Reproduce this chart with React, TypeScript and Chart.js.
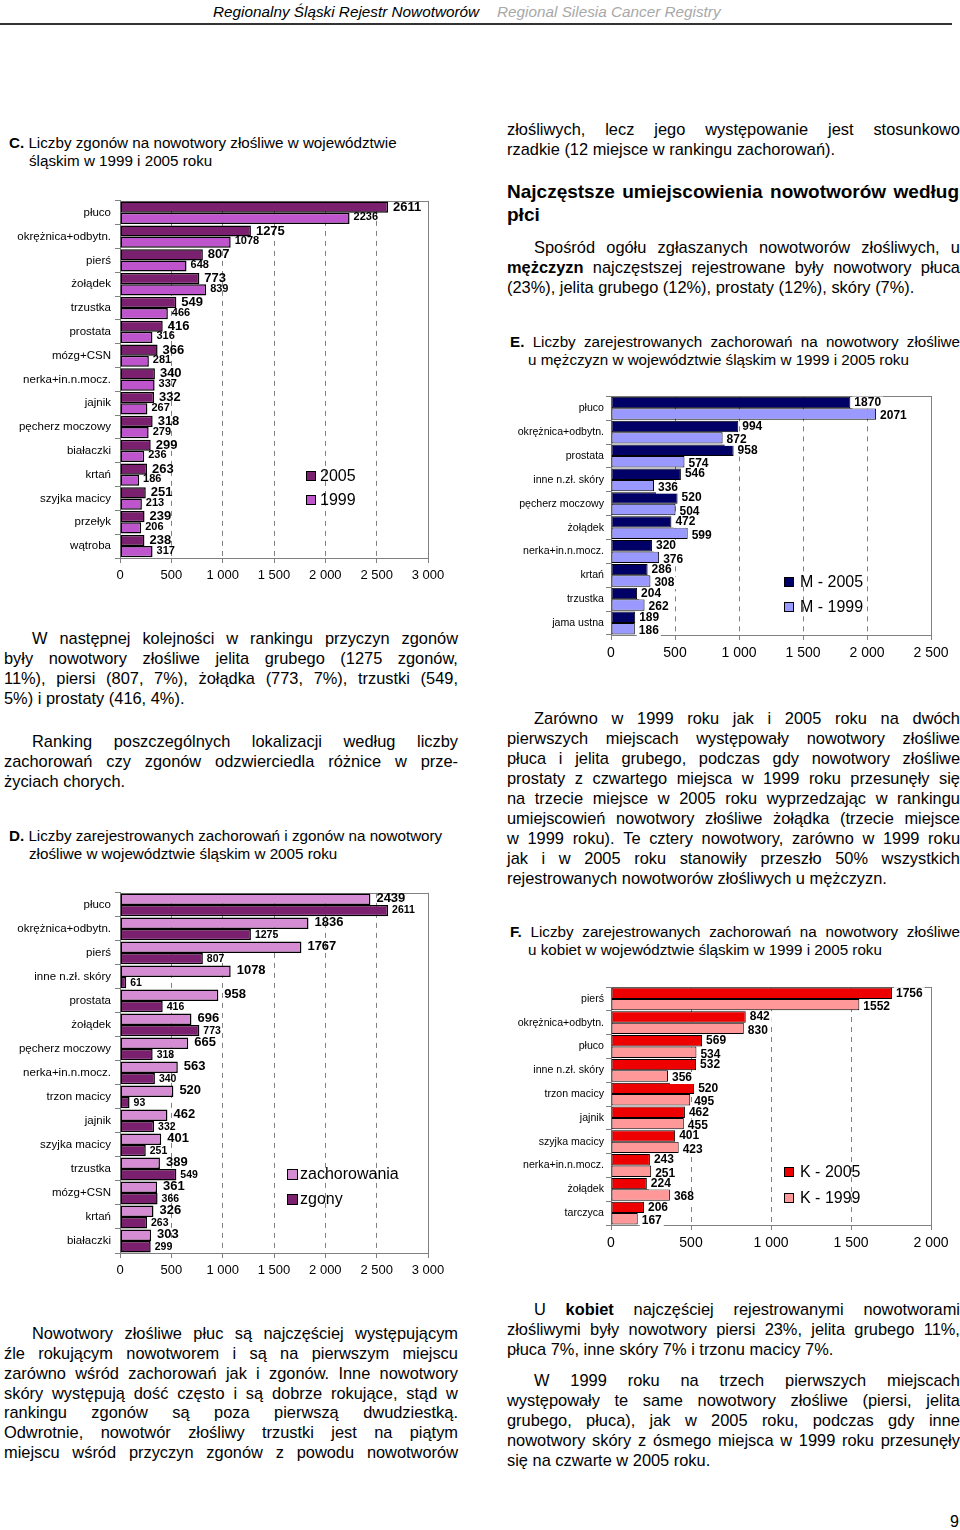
import React, { useEffect, useRef } from 'react';
import { Chart, registerables } from 'chart.js';

Chart.register(...registerables);

const FONT = "'Liberation Sans', Arial, Helvetica, sans-serif";
const BODY = 16.4;

// ---------- Chart C: deaths 2005 vs 1999 ----------
const C_CATEGORIES = ['płuco', 'okrężnica+odbytn.', 'pierś', 'żołądek', 'trzustka', 'prostata', 'mózg+CSN', 'nerka+in.n.mocz.', 'jajnik', 'pęcherz moczowy', 'białaczki', 'krtań', 'szyjka macicy', 'przełyk', 'wątroba'];
const C_2005 = [2611, 1275, 807, 773, 549, 416, 366, 340, 332, 318, 299, 263, 251, 239, 238];
const C_1999 = [2236, 1078, 648, 839, 466, 316, 281, 337, 267, 279, 236, 186, 213, 206, 317];
const C_SERIES = ['2005', '1999'];
const C_TICKS = ['0', '500', '1 000', '1 500', '2 000', '2 500', '3 000'];

// ---------- Chart D: incidence vs deaths 2005 ----------
const D_CATEGORIES = ['płuco', 'okrężnica+odbytn.', 'pierś', 'inne n.zł. skóry', 'prostata', 'żołądek', 'pęcherz moczowy', 'nerka+in.n.mocz.', 'trzon macicy', 'jajnik', 'szyjka macicy', 'trzustka', 'mózg+CSN', 'krtań', 'białaczki'];
const D_INCIDENCE = [2439, 1836, 1767, 1078, 958, 696, 665, 563, 520, 462, 401, 389, 361, 326, 303];
const D_DEATHS = [2611, 1275, 807, 61, 416, 773, 318, 340, 93, 332, 251, 549, 366, 263, 299];
const D_SERIES = ['zachorowania', 'zgony'];
const D_TICKS = ['0', '500', '1 000', '1 500', '2 000', '2 500', '3 000'];

// ---------- Chart E: men ----------
const E_CATEGORIES = ['płuco', 'okrężnica+odbytn.', 'prostata', 'inne n.zł. skóry', 'pęcherz moczowy', 'żołądek', 'nerka+in.n.mocz.', 'krtań', 'trzustka', 'jama ustna'];
const E_2005 = [1870, 994, 958, 546, 520, 472, 320, 286, 204, 189];
const E_1999 = [2071, 872, 574, 336, 504, 599, 376, 308, 262, 186];
const E_SERIES = ['M - 2005', 'M - 1999'];
const E_TICKS = ['0', '500', '1 000', '1 500', '2 000', '2 500'];

// ---------- Chart F: women ----------
const F_CATEGORIES = ['pierś', 'okrężnica+odbytn.', 'płuco', 'inne n.zł. skóry', 'trzon macicy', 'jajnik', 'szyjka macicy', 'nerka+in.n.mocz.', 'żołądek', 'tarczyca'];
const F_2005 = [1756, 842, 569, 532, 520, 462, 401, 243, 224, 206];
const F_1999 = [1552, 830, 534, 356, 495, 455, 423, 251, 368, 167];
const F_SERIES = ['K - 2005', 'K - 1999'];
const F_TICKS = ['0', '500', '1 000', '1 500', '2 000'];

type Box = { left: number; top: number; width: number; height: number };
type Plot = { left: number; right: number; top: number; bottom: number };
type Series = {
  label: string;
  data: number[];
  color: string;
  labelSize: number;
  dx: number;
  dy: number;
  labelBg?: boolean;
};
type BarProps = {
  box: Box;
  plot: Plot;
  categories: string[];
  series: Series[];
  max: number;
  step: number;
  ticks: string[];
  catSize: number;
  catPad: number;
  tickSize: number;
  catPct: number;
  borderWidth: number;
};

function BarChart(p: BarProps) {
  const ref = useRef<HTMLCanvasElement>(null);
  useEffect(() => {
    const { box, plot, series } = p;
    const frame = {
      id: 'frame',
      beforeDatasetsDraw(chart: any) {
        const { left, right, top, bottom } = chart.chartArea;
        const ctx = chart.ctx;
        ctx.save();
        ctx.strokeStyle = '#808080';
        ctx.lineWidth = 1;
        ctx.strokeRect(Math.round(left) + 0.5, Math.round(top) + 0.5, Math.round(right - left), Math.round(bottom - top));
        ctx.restore();
      },
    };
    const valueLabels = {
      id: 'valueLabels',
      afterDatasetsDraw(chart: any) {
        const ctx = chart.ctx;
        const n = chart.data.labels.length;
        for (let i = 0; i < n; i++) {
          chart.data.datasets.forEach((ds: any, di: number) => {
            const s = series[di];
            const bar: any = chart.getDatasetMeta(di).data[i];
            const text = String(ds.data[i]);
            ctx.save();
            ctx.font = `bold ${s.labelSize}px ${FONT}`;
            ctx.textBaseline = 'middle';
            ctx.textAlign = 'left';
            const x = bar.x + s.dx;
            const y = bar.y + s.dy;
            if (s.labelBg) {
              const w = ctx.measureText(text).width;
              ctx.fillStyle = '#fff';
              ctx.fillRect(x - 2, y - s.labelSize / 2, w + 4, s.labelSize);
            }
            ctx.fillStyle = '#000';
            ctx.fillText(text, x, y);
            ctx.restore();
          });
        }
      },
    };
    const chart = new Chart(ref.current as HTMLCanvasElement, {
      type: 'bar',
      data: {
        labels: p.categories,
        datasets: series.map((s) => ({
          label: s.label,
          data: s.data,
          backgroundColor: s.color,
          borderColor: '#000',
          borderWidth: p.borderWidth,
          borderSkipped: false,
          categoryPercentage: p.catPct,
          barPercentage: 1,
        })),
      },
      options: {
        indexAxis: 'y',
        animation: false,
        responsive: false,
        maintainAspectRatio: false,
        devicePixelRatio: 1,
        layout: {
          padding: {
            top: plot.top - box.top,
            right: box.left + box.width - plot.right,
            left: 0,
            bottom: 0,
          },
        },
        plugins: {
          legend: { display: false },
          tooltip: { enabled: false },
        },
        scales: {
          x: {
            type: 'linear',
            position: 'bottom',
            min: 0,
            max: p.max,
            ticks: {
              stepSize: p.step,
              autoSkip: false,
              maxRotation: 0,
              padding: 5,
              color: '#000',
              font: { family: FONT, size: p.tickSize },
              callback: (_v: any, i: number) => p.ticks[i],
            },
            grid: {
              color: '#808080',
              lineWidth: 1,
              drawTicks: true,
              tickLength: 5,
              tickColor: '#808080',
              tickBorderDash: [],
            },
            border: { display: true, color: '#808080', dash: [5, 5] },
            afterFit: (s: any) => {
              s.height = box.top + box.height - plot.bottom;
            },
          },
          y: {
            type: 'category',
            position: 'left',
            ticks: {
              autoSkip: false,
              padding: p.catPad,
              color: '#000',
              font: { family: FONT, size: p.catSize },
            },
            grid: {
              display: true,
              drawOnChartArea: false,
              drawTicks: true,
              tickLength: 5,
              color: '#808080',
              offset: true,
            },
            border: { display: true, color: '#808080' },
            afterFit: (s: any) => {
              s.width = plot.left - box.left;
            },
          },
        },
      } as any,
      plugins: [frame, valueLabels],
    } as any);
    return () => chart.destroy();
  }, []);
  return (
    <canvas
      ref={ref}
      width={p.box.width}
      height={p.box.height}
      style={{ position: 'absolute', left: p.box.left, top: p.box.top, width: p.box.width, height: p.box.height }}
    />
  );
}

function Legend({ x, cys, labels, colors, size, textX }: { x: number; cys: number[]; labels: string[]; colors: string[]; size: number; textX: number }) {
  return (
    <>
      {labels.map((l, i) => (
        <React.Fragment key={i}>
          <div
            style={{
              position: 'absolute',
              left: x,
              top: cys[i] - size / 2,
              width: size,
              height: size,
              background: colors[i],
              border: '1px solid #000',
              boxSizing: 'border-box',
            }}
          />
          <div style={{ position: 'absolute', left: textX, top: cys[i] - 10, height: 20, lineHeight: '20px', fontSize: 16, whiteSpace: 'pre' }}>{l}</div>
        </React.Fragment>
      ))}
    </>
  );
}

function Word({ w }: { w: string }) {
  if (w.startsWith('**') && w.endsWith('**')) return <b>{w.slice(2, -2)}</b>;
  return <span>{w}</span>;
}

function TextLine({ x, cy, w, lh, size, bold, justify, text, italic, color }: any) {
  const words = text.split(' ');
  const style: any = {
    position: 'absolute',
    left: x,
    top: cy - lh / 2,
    height: lh,
    lineHeight: lh + 'px',
    fontSize: size,
    fontWeight: bold ? 'bold' : 'normal',
    fontStyle: italic ? 'italic' : 'normal',
    color: color || '#000',
    whiteSpace: 'pre',
  };
  if (justify) {
    return (
      <div style={{ ...style, width: w, display: 'flex', justifyContent: 'space-between', gap: 3 }}>
        {words.map((wd: string, i: number) => (
          <Word key={i} w={wd} />
        ))}
      </div>
    );
  }
  return (
    <div style={style}>
      {words.map((wd: string, i: number) => (
        <React.Fragment key={i}>
          {i > 0 ? ' ' : ''}
          <Word w={wd} />
        </React.Fragment>
      ))}
    </div>
  );
}

type Para = { x: number; w: number; cy: number; lh: number; size: number; indent: number; lines: string[]; justifyLast?: boolean; bold?: boolean };

function Paragraph({ p }: { p: Para }) {
  return (
    <>
      {p.lines.map((l, i) => (
        <TextLine
          key={i}
          x={i === 0 ? p.x + p.indent : p.x}
          w={i === 0 ? p.w - p.indent : p.w}
          cy={p.cy + i * p.lh}
          lh={p.lh}
          size={p.size}
          bold={p.bold}
          justify={i < p.lines.length - 1 || p.justifyLast}
          text={l}
        />
      ))}
    </>
  );
}

function Title({ x, x2, cy, lines, justifyW }: { x: number; x2: number; cy: number; lines: string[]; justifyW?: number }) {
  return (
    <>
      {lines.map((l, i) => (
        <TextLine
          key={i}
          x={i === 0 ? x : x2}
          cy={cy + i * 18}
          lh={18}
          size={15.2}
          text={l}
          justify={i === 0 && !!justifyW}
          w={justifyW}
        />
      ))}
    </>
  );
}

const PARAS: Para[] = [
  {
    x: 4, w: 454, cy: 638, lh: 20, size: BODY, indent: 28,
    lines: [
      'W następnej kolejności w rankingu przyczyn zgonów',
      'były nowotwory złośliwe jelita grubego (1275 zgonów,',
      '11%), piersi (807, 7%), żołądka (773, 7%), trzustki (549,',
      '5%) i prostaty (416, 4%).',
    ],
  },
  {
    x: 4, w: 454, cy: 741, lh: 20, size: BODY, indent: 28,
    lines: [
      'Ranking poszczególnych lokalizacji według liczby',
      'zachorowań czy zgonów odzwierciedla różnice w prze-',
      'życiach chorych.',
    ],
  },
  {
    x: 4, w: 454, cy: 1334, lh: 19.85, size: BODY, indent: 28, justifyLast: true,
    lines: [
      'Nowotwory złośliwe płuc są najczęściej występującym',
      'źle rokującym nowotworem i są na pierwszym miejscu',
      'zarówno wśród zachorowań jak i zgonów. Inne nowotwory',
      'skóry występują dość często i są dobrze rokujące, stąd w',
      'rankingu zgonów są poza pierwszą dwudziestką.',
      'Odwrotnie, nowotwór złośliwy trzustki jest na piątym',
      'miejscu wśród przyczyn zgonów z powodu nowotworów',
    ],
  },
  {
    x: 507, w: 453, cy: 129, lh: 20, size: BODY, indent: 0,
    lines: [
      'złośliwych, lecz jego występowanie jest stosunkowo',
      'rzadkie (12 miejsce w rankingu zachorowań).',
    ],
  },
  {
    x: 507, w: 452, cy: 191, lh: 23, size: 19, indent: 0, bold: true,
    lines: ['Najczęstsze umiejscowienia nowotworów według', 'płci'],
  },
  {
    x: 507, w: 453, cy: 247, lh: 20, size: BODY, indent: 27,
    lines: [
      'Spośród ogółu zgłaszanych nowotworów złośliwych, u',
      '**mężczyzn** najczęstszej rejestrowane były nowotwory płuca',
      '(23%), jelita grubego (12%), prostaty (12%), skóry (7%).',
    ],
  },
  {
    x: 507, w: 453, cy: 718, lh: 20, size: BODY, indent: 27,
    lines: [
      'Zarówno w 1999 roku jak i 2005 roku na dwóch',
      'pierwszych miejscach występowały nowotwory złośliwe',
      'płuca i jelita grubego, podczas gdy nowotwory złośliwe',
      'prostaty z czwartego miejsca w 1999 roku przesunęły się',
      'na trzecie miejsce w 2005 roku wyprzedzając w rankingu',
      'umiejscowień nowotwory złośliwe żołądka (trzecie miejsce',
      'w 1999 roku). Te cztery nowotwory, zarówno w 1999 roku',
      'jak i w 2005 roku stanowiły przeszło 50% wszystkich',
      'rejestrowanych nowotworów złośliwych u mężczyzn.',
    ],
  },
  {
    x: 507, w: 453, cy: 1309, lh: 20, size: BODY, indent: 27,
    lines: [
      'U **kobiet** najczęściej rejestrowanymi nowotworami',
      'złośliwymi były nowotwory piersi 23%, jelita grubego 11%,',
      'płuca 7%, inne skóry 7% i trzonu macicy 7%.',
    ],
  },
  {
    x: 507, w: 453, cy: 1380, lh: 20, size: BODY, indent: 27,
    lines: [
      'W 1999 roku na trzech pierwszych miejscach',
      'występowały te same nowotwory złośliwe (piersi, jelita',
      'grubego, płuca), jak w 2005 roku, podczas gdy inne',
      'nowotwory skóry z ósmego miejsca w 1999 roku przesunęły',
      'się na czwarte w 2005 roku.',
    ],
  },
];

export default function App() {
  const cColors = ['#7B1F6F', '#BE55CD'];
  const dColors = ['#D68CD2', '#7B1F6F'];
  const eColors = ['#000066', '#9999FF'];
  const fColors = ['#EE0000', '#FF9999'];
  return (
    <div
      style={{
        position: 'absolute',
        left: 0,
        top: 0,
        width: 960,
        height: 1530,
        overflow: 'hidden',
        background: '#fff',
        fontFamily: FONT,
        color: '#000',
      }}
    >
      {/* header */}
      <TextLine x={213} cy={12} lh={20} size={15.3} italic text="Regionalny Śląski Rejestr Nowotworów" />
      <TextLine x={497} cy={12} lh={20} size={15.3} italic color="#A8A8A8" text="Regional Silesia Cancer Registry" />
      <div style={{ position: 'absolute', left: 0, top: 23, width: 952, height: 2, background: '#333' }} />

      <Title x={9} x2={29} cy={143} lines={['**C.** Liczby zgonów na nowotwory złośliwe w województwie', 'śląskim w 1999 i 2005 roku']} />
      <Title x={9} x2={29} cy={836} lines={['**D.** Liczby zarejestrowanych zachorowań i zgonów na nowotwory', 'złośliwe w województwie śląskim w 2005 roku']} />
      <Title x={510} x2={528} cy={342} justifyW={450} lines={['**E.** Liczby zarejestrowanych zachorowań na nowotwory złośliwe', 'u mężczyzn w województwie śląskim w 1999 i 2005 roku']} />
      <Title x={510} x2={528} cy={932} justifyW={450} lines={['**F.** Liczby zarejestrowanych zachorowań na nowotwory złośliwe', 'u kobiet w województwie śląskim w 1999 i 2005 roku']} />

      {PARAS.map((p, i) => (
        <Paragraph key={i} p={p} />
      ))}

      <BarChart
        box={{ left: 0, top: 190, width: 460, height: 400 }}
        plot={{ left: 120, right: 428, top: 200, bottom: 558 }}
        categories={C_CATEGORIES}
        series={[
          { label: C_SERIES[0], data: C_2005, color: cColors[0], labelSize: 13, dx: 5, dy: 0 },
          { label: C_SERIES[1], data: C_1999, color: cColors[1], labelSize: 11, dx: 4, dy: -1 },
        ]}
        max={3000}
        step={500}
        ticks={C_TICKS}
        catSize={11.5}
        catPad={4}
        tickSize={13}
        catPct={0.94}
        borderWidth={1.5}
      />
      <Legend x={306} textX={320} cys={[476, 500]} labels={C_SERIES} colors={cColors} size={10} />

      <BarChart
        box={{ left: 0, top: 882, width: 460, height: 408 }}
        plot={{ left: 120, right: 428, top: 891, bottom: 1253 }}
        categories={D_CATEGORIES}
        series={[
          { label: D_SERIES[0], data: D_INCIDENCE, color: dColors[0], labelSize: 13, dx: 6, dy: -1 },
          { label: D_SERIES[1], data: D_DEATHS, color: dColors[1], labelSize: 10.5, dx: 4, dy: 0 },
        ]}
        max={3000}
        step={500}
        ticks={D_TICKS}
        catSize={11.5}
        catPad={4}
        tickSize={13}
        catPct={0.95}
        borderWidth={1.5}
      />
      <Legend x={287} textX={300} cys={[1174, 1199]} labels={D_SERIES} colors={dColors} size={11} />

      <BarChart
        box={{ left: 505, top: 388, width: 455, height: 285 }}
        plot={{ left: 611, right: 931, top: 396, bottom: 635 }}
        categories={E_CATEGORIES}
        series={[
          { label: E_SERIES[0], data: E_2005, color: eColors[0], labelSize: 12, dx: 4, dy: 0, labelBg: true },
          { label: E_SERIES[1], data: E_1999, color: eColors[1], labelSize: 12, dx: 4, dy: 2, labelBg: true },
        ]}
        max={2500}
        step={500}
        ticks={E_TICKS}
        catSize={10.6}
        catPad={2}
        tickSize={14}
        catPct={0.96}
        borderWidth={1}
      />
      <Legend x={784} textX={800} cys={[582, 607]} labels={E_SERIES} colors={eColors} size={10} />

      <BarChart
        box={{ left: 505, top: 978, width: 455, height: 280 }}
        plot={{ left: 611, right: 931, top: 987, bottom: 1225 }}
        categories={F_CATEGORIES}
        series={[
          { label: F_SERIES[0], data: F_2005, color: fColors[0], labelSize: 12, dx: 4, dy: 0, labelBg: true },
          { label: F_SERIES[1], data: F_1999, color: fColors[1], labelSize: 12, dx: 4, dy: 2, labelBg: true },
        ]}
        max={2000}
        step={500}
        ticks={F_TICKS}
        catSize={10.6}
        catPad={2}
        tickSize={14}
        catPct={0.96}
        borderWidth={1}
      />
      <Legend x={784} textX={800} cys={[1172, 1198]} labels={F_SERIES} colors={fColors} size={10} />

      <TextLine x={950} cy={1522} lh={20} size={16} text="9" />
    </div>
  );
}
